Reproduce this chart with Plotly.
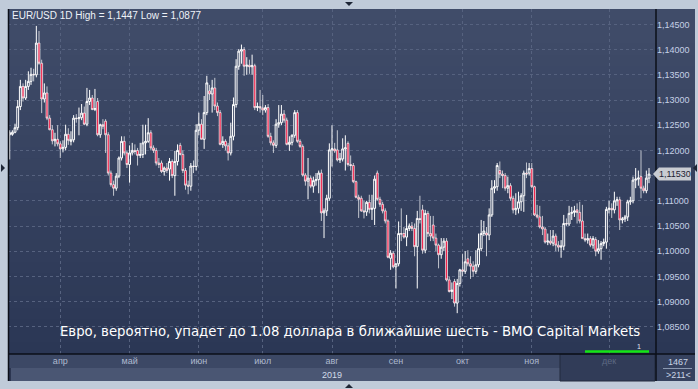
import plotly.graph_objects as go

# ---------------- data ----------------
opens = [
    1.1231,1.1232,1.1236,1.1245,1.1287,1.1327,1.1304,1.1327,1.1337,1.1351,
    1.1350,1.1413,1.1373,1.1302,1.1314,1.1264,1.1241,1.1219,1.1222,1.1213,
    1.1203,1.1206,1.1232,1.1218,1.1221,1.1264,1.1263,1.1265,1.1274,1.1252,
    1.1297,1.1304,1.1281,1.1297,1.1231,1.1251,1.1258,1.1231,1.1155,1.1132,
    1.1125,1.1149,1.1185,1.1218,1.1195,1.1172,1.1195,1.1200,1.1200,1.1190,
    1.1192,1.1215,1.1218,1.1235,1.1205,1.1200,1.1175,1.1175,1.1158,1.1165,
    1.1163,1.1178,1.1150,1.1178,1.1210,1.1192,1.1160,1.1131,1.1129,1.1169,
    1.1168,1.1240,1.1252,1.1222,1.1275,1.1318,1.1312,1.1324,1.1288,1.1275,
    1.1212,1.1218,1.1209,1.1195,1.1228,1.1291,1.1367,1.1397,1.1400,1.1367,
    1.1369,1.1366,1.1368,1.1285,1.1287,1.1284,1.1280,1.1285,1.1228,1.1215,
    1.1210,1.1252,1.1255,1.1272,1.1260,1.1212,1.1216,1.1230,1.1275,1.1218,
    1.1208,1.1151,1.1139,1.1145,1.1129,1.1140,1.1142,1.1155,1.1076,1.1080,
    1.1105,1.1201,1.1203,1.1201,1.1181,1.1183,1.1203,1.1214,1.1172,1.1170,
    1.1138,1.1107,1.1105,1.1080,1.1078,1.1097,1.1083,1.1085,1.1155,1.1103,
    1.1093,1.1080,1.1060,1.0986,1.0996,1.0969,1.0975,1.1035,1.1035,1.1028,
    1.1045,1.1050,1.1045,1.1009,1.1065,1.1082,1.1002,1.1075,1.1035,1.1052,
    1.1026,1.1012,1.0993,1.1008,1.1020,1.0943,1.0920,1.0940,1.0897,1.0936,
    1.0963,1.0960,1.0985,1.0975,1.0970,1.0960,1.0973,1.1005,1.1035,1.1036,
    1.1032,1.1072,1.1125,1.1128,1.1160,1.1153,1.1150,1.1125,1.1130,1.1105,
    1.1082,1.1085,1.1098,1.1110,1.1155,1.1155,1.1164,1.1128,1.1072,1.1068,
    1.1048,1.1044,1.1018,1.1020,1.1016,1.1030,1.1012,1.1008,1.1010,1.1055,
    1.1054,1.1075,1.1077,1.1082,1.1077,1.1060,1.1025,1.1022,1.1025,1.1012,
    1.1023,1.1000,1.1005,1.1015,1.1018,1.1083,1.1085,1.1082,1.1100,1.1102,
    1.1062,1.1064,1.1068,1.1098,1.1100,1.1141,1.1143,1.1148,1.1125,1.1120,
    1.1145,
]
highs = [
    1.1240,1.1240,1.1253,1.1300,1.1340,1.1333,1.1340,1.1357,1.1364,1.1362,
    1.1447,1.1437,1.1380,1.1333,1.1327,1.1270,1.1250,1.1235,1.1250,1.1218,
    1.1220,1.1251,1.1244,1.1238,1.1270,1.1272,1.1285,1.1292,1.1287,1.1324,
    1.1320,1.1310,1.1322,1.1304,1.1253,1.1262,1.1262,1.1236,1.1160,1.1140,
    1.1155,1.1188,1.1228,1.1228,1.1200,1.1210,1.1215,1.1212,1.1205,1.1215,
    1.1251,1.1251,1.1264,1.1240,1.1210,1.1205,1.1185,1.1180,1.1168,1.1175,
    1.1185,1.1182,1.1199,1.1212,1.1215,1.1200,1.1165,1.1140,1.1175,1.1180,
    1.1252,1.1275,1.1262,1.1308,1.1348,1.1330,1.1340,1.1344,1.1295,1.1280,
    1.1228,1.1222,1.1215,1.1255,1.1305,1.1381,1.1401,1.1410,1.1405,1.1385,
    1.1380,1.1390,1.1372,1.1295,1.1320,1.1310,1.1290,1.1292,1.1235,1.1220,
    1.1262,1.1290,1.1290,1.1280,1.1265,1.1228,1.1232,1.1280,1.1280,1.1222,
    1.1212,1.1155,1.1185,1.1150,1.1148,1.1155,1.1160,1.1162,1.1085,1.1112,
    1.1214,1.1250,1.1215,1.1240,1.1195,1.1224,1.1230,1.1218,1.1190,1.1175,
    1.1140,1.1112,1.1110,1.1100,1.1100,1.1112,1.1112,1.1150,1.1160,1.1108,
    1.1098,1.1085,1.1063,1.1002,1.1000,1.0975,1.1059,1.1085,1.1048,1.1072,
    1.1055,1.1058,1.1055,1.1080,1.1110,1.1092,1.1082,1.1080,1.1070,1.1070,
    1.1035,1.1015,1.1026,1.1026,1.1026,1.0950,1.0938,1.0945,1.0945,1.0965,
    1.0995,1.1000,1.1002,1.0990,1.0980,1.1002,1.1035,1.1062,1.1060,1.1048,
    1.1085,1.1141,1.1141,1.1175,1.1178,1.1160,1.1155,1.1148,1.1135,1.1110,
    1.1115,1.1118,1.1115,1.1160,1.1176,1.1175,1.1175,1.1130,1.1092,1.1090,
    1.1070,1.1048,1.1035,1.1042,1.1042,1.1035,1.1020,1.1022,1.1072,1.1065,
    1.1090,1.1088,1.1090,1.1095,1.1098,1.1092,1.1035,1.1035,1.1030,1.1030,
    1.1028,1.1022,1.1020,1.1025,1.1088,1.1100,1.1095,1.1118,1.1108,1.1108,
    1.1068,1.1072,1.1102,1.1108,1.1148,1.1165,1.1160,1.1200,1.1130,1.1160,
    1.1165,
]
lows = [
    1.1182,1.1229,1.1234,1.1240,1.1280,1.1297,1.1300,1.1320,1.1330,1.1337,
    1.1345,1.1370,1.1274,1.1295,1.1260,1.1240,1.1212,1.1208,1.1208,1.1185,
    1.1196,1.1200,1.1211,1.1210,1.1216,1.1255,1.1230,1.1260,1.1250,1.1248,
    1.1290,1.1280,1.1278,1.1228,1.1225,1.1242,1.1195,1.1150,1.1128,1.1110,
    1.1120,1.1145,1.1180,1.1190,1.1165,1.1136,1.1190,1.1192,1.1170,1.1185,
    1.1185,1.1192,1.1215,1.1200,1.1195,1.1170,1.1165,1.1155,1.1150,1.1155,
    1.1140,1.1145,1.1110,1.1170,1.1190,1.1155,1.1122,1.1113,1.1120,1.1155,
    1.1160,1.1230,1.1222,1.1203,1.1270,1.1300,1.1275,1.1280,1.1268,1.1210,
    1.1205,1.1200,1.1180,1.1190,1.1220,1.1285,1.1360,1.1372,1.1348,1.1350,
    1.1352,1.1350,1.1280,1.1278,1.1275,1.1270,1.1275,1.1225,1.1210,1.1195,
    1.1205,1.1245,1.1250,1.1255,1.1210,1.1199,1.1210,1.1225,1.1215,1.1205,
    1.1148,1.1130,1.1103,1.1125,1.1116,1.1130,1.1115,1.1060,1.1026,1.1070,
    1.1100,1.1168,1.1195,1.1178,1.1175,1.1178,1.1160,1.1168,1.1160,1.1135,
    1.1105,1.1066,1.1078,1.1065,1.1070,1.1075,1.1062,1.1052,1.1100,1.1088,
    1.1075,1.1055,1.0986,1.0963,1.0966,1.0926,1.0970,1.1020,1.1025,1.1010,
    1.1040,1.1040,1.0990,1.0926,1.1055,1.0995,1.0996,1.1028,1.1020,1.1020,
    1.1000,1.0966,1.0985,1.1000,1.0940,1.0918,1.0905,1.0890,1.0877,1.0930,
    1.0950,1.0955,1.0970,1.0945,1.0949,1.0955,1.0968,1.1000,1.1030,1.0990,
    1.1022,1.1068,1.1115,1.1120,1.1145,1.1125,1.1120,1.1115,1.1100,1.1075,
    1.1072,1.1075,1.1080,1.1078,1.1145,1.1150,1.1125,1.1070,1.1065,1.1045,
    1.1032,1.1015,1.1012,1.1012,1.1010,1.1000,1.0999,1.0987,1.1002,1.1050,
    1.1050,1.1062,1.1068,1.1055,1.1055,1.1025,1.1018,1.1015,1.1008,1.1005,
    1.0990,1.0995,1.0983,1.1010,1.1005,1.1075,1.1066,1.1075,1.1090,1.1042,
    1.1055,1.1058,1.1060,1.1092,1.1095,1.1125,1.1130,1.1105,1.1115,1.1115,
    1.1135,
]
closes = [
    1.1235,1.1236,1.1245,1.1287,1.1327,1.1304,1.1327,1.1337,1.1351,1.1350,
    1.1413,1.1373,1.1302,1.1314,1.1264,1.1241,1.1219,1.1222,1.1213,1.1203,
    1.1206,1.1232,1.1220,1.1221,1.1264,1.1263,1.1265,1.1274,1.1252,1.1297,
    1.1304,1.1281,1.1283,1.1231,1.1251,1.1248,1.1231,1.1155,1.1132,1.1125,
    1.1149,1.1185,1.1218,1.1195,1.1172,1.1195,1.1200,1.1198,1.1190,1.1192,
    1.1215,1.1218,1.1235,1.1205,1.1200,1.1175,1.1172,1.1158,1.1165,1.1160,
    1.1178,1.1150,1.1178,1.1200,1.1192,1.1160,1.1131,1.1129,1.1169,1.1168,
    1.1240,1.1252,1.1222,1.1275,1.1334,1.1312,1.1324,1.1288,1.1275,1.1212,
    1.1218,1.1209,1.1195,1.1228,1.1291,1.1367,1.1397,1.1400,1.1367,1.1369,
    1.1366,1.1368,1.1285,1.1287,1.1284,1.1280,1.1285,1.1228,1.1215,1.1210,
    1.1252,1.1255,1.1272,1.1260,1.1212,1.1216,1.1230,1.1275,1.1218,1.1208,
    1.1151,1.1139,1.1145,1.1129,1.1140,1.1142,1.1155,1.1076,1.1080,1.1105,
    1.1201,1.1203,1.1199,1.1181,1.1183,1.1203,1.1205,1.1172,1.1170,1.1138,
    1.1107,1.1103,1.1080,1.1078,1.1097,1.1083,1.1085,1.1143,1.1103,1.1093,
    1.1080,1.1060,1.0988,1.0996,1.0969,1.0975,1.1035,1.1034,1.1028,1.1045,
    1.1050,1.1045,1.1009,1.1065,1.1063,1.1002,1.1075,1.1035,1.1030,1.1026,
    1.1012,1.0993,1.1008,1.1020,1.0943,1.0920,1.0923,1.0897,1.0936,1.0963,
    1.0960,1.0979,1.0975,1.0970,1.0960,1.0973,1.1005,1.1035,1.1040,1.1032,
    1.1072,1.1125,1.1128,1.1170,1.1153,1.1150,1.1125,1.1130,1.1105,1.1082,
    1.1085,1.1098,1.1110,1.1155,1.1153,1.1164,1.1128,1.1072,1.1068,1.1048,
    1.1044,1.1018,1.1020,1.1016,1.1030,1.1012,1.1008,1.1010,1.1055,1.1054,
    1.1075,1.1077,1.1080,1.1077,1.1060,1.1025,1.1022,1.1025,1.1012,1.1025,
    1.1000,1.1005,1.1015,1.1018,1.1083,1.1085,1.1082,1.1100,1.1102,1.1062,
    1.1064,1.1068,1.1098,1.1100,1.1141,1.1143,1.1145,1.1125,1.1120,1.1145,
    1.1153,
]
month_pos = [19, 45, 71, 95, 121, 145, 170, 196, 225]
month_names = ["апр", "май", "июн", "июл", "авг", "сен", "окт", "ноя", "дек"]
y_ticks = [1.085, 1.090, 1.095, 1.100, 1.105, 1.110, 1.115,
           1.120, 1.125, 1.130, 1.135, 1.140, 1.145]
year_label = "2019"
year_pos = 121
last_price = 1.1153
header = "EUR/USD 1D High = 1,1447 Low = 1,0877"
caption = "Евро, вероятно, упадет до 1.08 доллара в ближайшие шесть - BMO Capital Markets"
total_text = "1467"
visible_text = ">211<"

# ---------------- layout geometry ----------------
N = len(closes)
x = list(range(N))
W, H = 698, 389
L, R, T, B = 8, 42, 9, 35
PW, PH = W - L - R, H - T - B


def fx(p):
    return (p - L) / PW


def fy(p):
    return (H - B - p) / PH


step = (649 - 9.7) / (N - 1)
x_range = [-(9.7 - L) / step, (656 - 9.7) / step]
y_range = [1.0796, 1.14806]

fig = go.Figure(go.Candlestick(
    x=x, open=opens, high=highs, low=lows, close=closes,
    increasing=dict(line=dict(color="#ffffff", width=1), fillcolor="rgba(0,0,0,0)"),
    decreasing=dict(line=dict(color="#ffffff", width=0.7), fillcolor="#f0103c"),
    whiskerwidth=0, hoverinfo="skip", showlegend=False,
))

shapes = []


def rect(x0, y0, x1, y1, fill, line=None, layer="below"):
    d = dict(type="rect", xref="paper", yref="paper",
             x0=fx(x0), x1=fx(x1), y0=fy(y1), y1=fy(y0),
             fillcolor=fill, layer=layer, line=dict(width=0))
    if line:
        d["line"] = line
    shapes.append(d)


def hline(x0, x1, y, color, width=1, layer="above"):
    shapes.append(dict(type="line", xref="paper", yref="paper",
                       x0=fx(x0), x1=fx(x1), y0=fy(y), y1=fy(y),
                       line=dict(color=color, width=width), layer=layer))


def vline(xp, y0, y1, color, width=1, layer="above"):
    shapes.append(dict(type="line", xref="paper", yref="paper",
                       x0=fx(xp), x1=fx(xp), y0=fy(y0), y1=fy(y1),
                       line=dict(color=color, width=width), layer=layer))


def tri(pts, color):
    path = "M " + " L ".join(f"{fx(a)},{fy(b)}" for a, b in pts) + " Z"
    shapes.append(dict(type="path", xref="paper", yref="paper", path=path,
                       fillcolor=color, line=dict(width=0), layer="above"))


# gradient background for plot + right panel
top_c = (0x40, 0x4c, 0x69)
bot_c = (0x2b, 0x37, 0x55)
steps = 30
for k in range(steps):
    t = k / (steps - 1)
    c = tuple(round(top_c[i] + (bot_c[i] - top_c[i]) * t) for i in range(3))
    y0 = 9 + k * 345 / steps
    y1 = 9 + (k + 1) * 345 / steps + 0.5
    rect(8, y0, 695, y1, "rgb(%d,%d,%d)" % c)

# bottom axis panel
rect(8, 354, 656, 368, "#3c4865")
rect(8, 368, 656, 381, "#2b3550")
rect(11, 368, 656, 381, "#4a5673")
rect(560, 354, 655, 381, "#313c58", line=dict(color="#222a3e", width=1))
rect(656, 354, 695, 381, "#36425f")
hline(663, 692, 368.5, "#8a98b0", 1)

# frame lines
vline(656, 9, 381, "#0b0f18", 1.5)
hline(8, 695, 354, "#0b0f18", 1.5)
vline(8.5, 9, 381, "#0b0f18", 1.5)

# green marker
hline(585, 649, 351.5, "#14e614", 2.5)

# price label
tri([(653, 174), (659, 167.5), (691, 167.5), (691, 180.5), (659, 180.5)], "#c9ccd2")

# splitter handles
tri([(345, 2), (353, 2), (349, 6)], "#1d2535")
tri([(345, 388), (353, 388), (349, 384)], "#1d2535")
tri([(1, 164), (1, 172), (5, 168)], "#1d2535")
tri([(697, 164), (697, 172), (693, 168)], "#1d2535")

lbl_font = "Liberation Sans, Arial, sans-serif"
annotations = [
    dict(text=header, xref="paper", yref="paper", x=fx(10), y=fy(15),
         xanchor="left", yanchor="middle", showarrow=False,
         font=dict(family=lbl_font, size=10, color="#eef2f8")),
    dict(text=caption, xref="paper", yref="paper", x=fx(642), y=fy(331),
         xanchor="right", yanchor="middle", showarrow=False,
         font=dict(family="DejaVu Sans", size=13.25, color="#ffffff")),
    dict(text="1,11530", xref="paper", yref="paper", x=fx(675), y=fy(174),
         xanchor="center", yanchor="middle", showarrow=False,
         font=dict(family=lbl_font, size=9, color="#1c2232")),
    dict(text="1", xref="paper", yref="paper", x=fx(639), y=fy(346.5),
         xanchor="center", yanchor="middle", showarrow=False,
         font=dict(family=lbl_font, size=7, color="#e0e6f0")),
    dict(text=year_label, xref="x", yref="paper", x=year_pos, y=fy(375),
         xanchor="center", yanchor="middle", showarrow=False,
         font=dict(family=lbl_font, size=9, color="#d2dbe8")),
    dict(text=total_text, xref="paper", yref="paper", x=fx(678), y=fy(361.5),
         xanchor="center", yanchor="middle", showarrow=False,
         font=dict(family=lbl_font, size=9, color="#c8d4e6")),
    dict(text=visible_text, xref="paper", yref="paper", x=fx(678), y=fy(375),
         xanchor="center", yanchor="middle", showarrow=False,
         font=dict(family=lbl_font, size=9, color="#c8d4e6")),
]

y_text = [("" if abs(v - 1.115) < 1e-9 else f"{v:.5f}".replace(".", ",")) for v in y_ticks]
x_text = [n if n != "дек" else '<span style="color:#5d6983">дек</span>' for n in month_names]

fig.update_layout(
    width=W, height=H,
    margin=dict(l=L, r=R, t=T, b=B, pad=0, autoexpand=False),
    paper_bgcolor="#c0cbd9",
    plot_bgcolor="rgba(0,0,0,0)",
    boxgap=0.0,
    shapes=shapes,
    annotations=annotations,
    xaxis=dict(range=x_range, tickvals=month_pos, ticktext=x_text,
               showgrid=True, gridcolor="#56627f", griddash="3px,3px", gridwidth=1,
               zeroline=False, showline=False, ticks="", automargin=False,
               rangeslider=dict(visible=False),
               tickfont=dict(family=lbl_font, size=9, color="#aeb9ce")),
    yaxis=dict(range=y_range, side="right", tickvals=y_ticks, ticktext=y_text,
               showgrid=True, gridcolor="#56627f", griddash="3px,3px", gridwidth=1,
               zeroline=False, showline=False, ticks="", automargin=False,
               tickfont=dict(family=lbl_font, size=9, color="#c5d1e6")),
)

fig.write_html(
    "out.html",
    config={"displayModeBar": False},
    post_script="document.body.style.margin='0';document.body.style.background='#c0cbd9';document.body.style.overflow='hidden';",
)
